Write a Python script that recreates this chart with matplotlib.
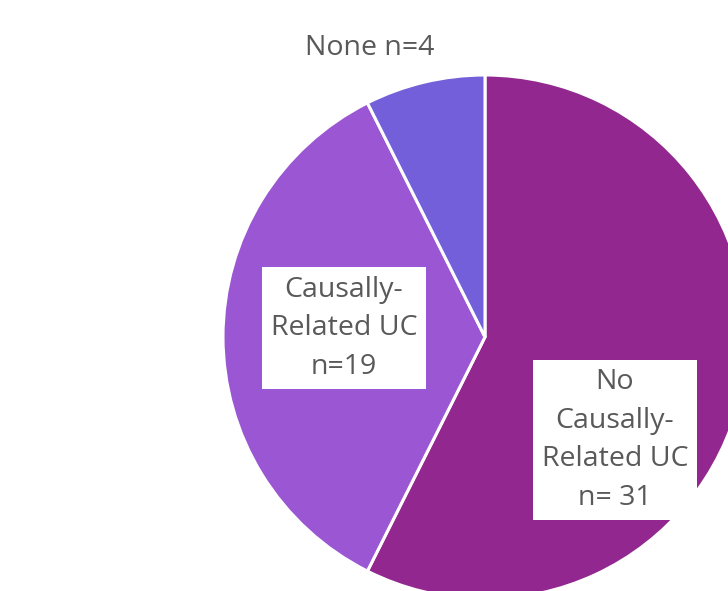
import matplotlib.pyplot as plt

# UC status counts
labels = ["No\nCausally-\nRelated UC\nn= 31", "Causally-\nRelated UC\nn=19", "None n=4"]
counts = [31, 19, 4]
colors = ["#92278F", "#9B57D3", "#745FDA"]

W, H = 728, 591
fig = plt.figure(figsize=(W / 100, H / 100), dpi=100)
ax = fig.add_axes([0, 0, 1, 1])
ax.set_xlim(0, W)
ax.set_ylim(0, H)
ax.set_aspect("equal")
ax.axis("off")

ax.pie(counts, colors=colors, startangle=90, counterclock=False,
       center=(485, H - 337), radius=262,
       wedgeprops=dict(edgecolor="white", linewidth=2.2))
ax.set_xlim(0, W)
ax.set_ylim(0, H)

txt = dict(fontsize=20.5, color="#595959", family="Open Sans",
           ha="center", va="center", linespacing=1.5)
box = dict(boxstyle="square,pad=0.3", facecolor="white", edgecolor="none")
ax.text(615, H - 440, labels[0], bbox=box, **txt)
ax.text(344, H - 328, labels[1], bbox=box, **txt)
ax.text(370, H - 48, labels[2], **txt)

fig.savefig("out.png", dpi=100)
